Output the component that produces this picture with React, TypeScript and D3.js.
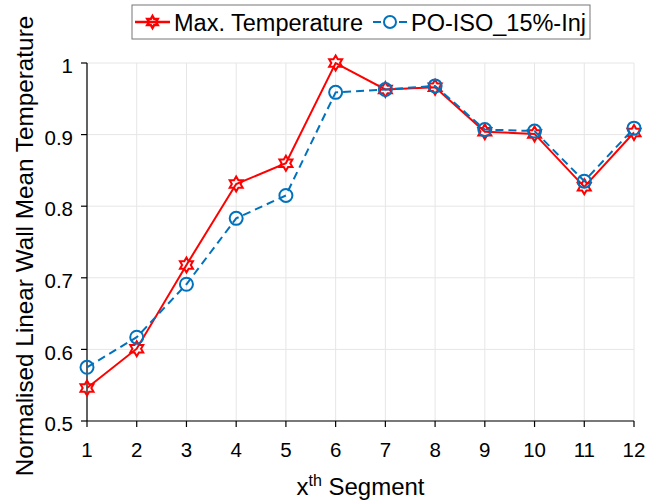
import React from "react";
import * as d3 from "d3";

const segments = [1, 2, 3, 4, 5, 6, 7, 8, 9, 10, 11, 12];
const maxTemp = [0.546, 0.601, 0.718, 0.831, 0.86, 1.0, 0.963, 0.966, 0.904, 0.901, 0.827, 0.903];
const poIso = [0.575, 0.617, 0.691, 0.783, 0.815, 0.959, 0.963, 0.968, 0.907, 0.905, 0.835, 0.909];
const yTicks = [0.5, 0.6, 0.7, 0.8, 0.9, 1];

const W = 661;
const H = 502;
const m = { left: 87, right: 27, top: 63, bottom: 81 };
const font = "'Liberation Sans', Arial, Helvetica, sans-serif";
const RED = "#FF0000";
const BLUE = "#0072BD";

// six-pointed star outline, centred on 0,0
const hexagram = (r: number) => {
  const pts: [number, number][] = [];
  for (let i = 0; i < 12; i++) {
    const rr = i % 2 === 0 ? r : r / Math.sqrt(3);
    pts.push([(i * Math.PI) / 6, rr]);
  }
  return d3.lineRadial().curve(d3.curveLinearClosed)(pts) as string;
};

const App = () => {
  const x = d3.scaleLinear().domain([1, 12]).range([m.left, W - m.right]);
  const y = d3.scaleLinear().domain([0.5, 1]).range([H - m.bottom, m.top]);

  const line = d3
    .line<number>()
    .x((_, i) => x(segments[i]))
    .y((d) => y(d));

  const star = hexagram(7.5);

  return (
    <svg
      width={W}
      height={H}
      style={{ position: "absolute", left: 0, top: 0, background: "#fff" }}
      fontFamily={font}
    >
      {/* grid */}
      <g stroke="#e6e6e6" strokeWidth={1}>
        {segments.map((s) => (
          <line key={"gx" + s} x1={x(s)} x2={x(s)} y1={y(0.5)} y2={y(1)} />
        ))}
        {yTicks.map((t) => (
          <line key={"gy" + t} x1={x(1)} x2={x(12)} y1={y(t)} y2={y(t)} />
        ))}
      </g>

      {/* axes */}
      <g stroke="#000" strokeWidth={1.2}>
        <line x1={x(1)} x2={x(1)} y1={y(0.5)} y2={y(1)} />
        <line x1={x(1)} x2={x(12)} y1={y(0.5)} y2={y(0.5)} />
        {yTicks.map((t) => (
          <line key={"ty" + t} x1={x(1) - 6} x2={x(1)} y1={y(t)} y2={y(t)} />
        ))}
        {segments.map((s) => (
          <line key={"tx" + s} x1={x(s)} x2={x(s)} y1={y(0.5)} y2={y(0.5) + 6} />
        ))}
      </g>
      <g fontSize={20.5} fill="#000">
        {yTicks.map((t) => (
          <text key={"ly" + t} x={x(1) - 14} y={y(t) + 3} dy="0.35em" textAnchor="end">
            {String(t)}
          </text>
        ))}
        {segments.map((s) => (
          <text key={"lx" + s} x={x(s)} y={y(0.5) + 36} textAnchor="middle">
            {s}
          </text>
        ))}
      </g>

      <text x={(x(1) + x(12)) / 2} y={495} textAnchor="middle" fontSize={24}>
        x<tspan dy={-9} fontSize={16}>th</tspan>
        <tspan dy={9}> Segment</tspan>
      </text>
      <text
        transform={`translate(33, 246) rotate(-90)`}
        textAnchor="middle"
        fontSize={24.3}
      >
        Normalised Linear Wall Mean Temperature
      </text>

      {/* series */}
      <path d={line(maxTemp) as string} fill="none" stroke={RED} strokeWidth={2} />
      {maxTemp.map((v, i) => (
        <path
          key={"r" + i}
          d={star}
          transform={`translate(${x(segments[i])},${y(v)})`}
          fill="none"
          stroke={RED}
          strokeWidth={2}
        />
      ))}
      <path
        d={line(poIso) as string}
        fill="none"
        stroke={BLUE}
        strokeWidth={2}
        strokeDasharray="8,5"
      />
      {poIso.map((v, i) => (
        <circle
          key={"b" + i}
          cx={x(segments[i])}
          cy={y(v)}
          r={6.5}
          fill="none"
          stroke={BLUE}
          strokeWidth={2}
        />
      ))}

      {/* legend */}
      <g>
        <rect x={132} y={5} width={458} height={34} fill="#fff" stroke="#777" strokeWidth={1} />
        <line x1={135} x2={170} y1={22} y2={22} stroke={RED} strokeWidth={2.5} />
        <path d={hexagram(6)} transform="translate(152.5,22)" fill="none" stroke={RED} strokeWidth={2.5} />
        <text x={174} y={31} fontSize={23.5}>Max. Temperature</text>
        <line x1={373} x2={407} y1={22} y2={22} stroke={BLUE} strokeWidth={2} strokeDasharray="8,5" />
        <circle cx={390} cy={22} r={6} fill="#fff" stroke={BLUE} strokeWidth={2} />
        <text x={411} y={31} fontSize={23.5}>PO-ISO_15%-Inj</text>
      </g>
    </svg>
  );
};

export default App;
